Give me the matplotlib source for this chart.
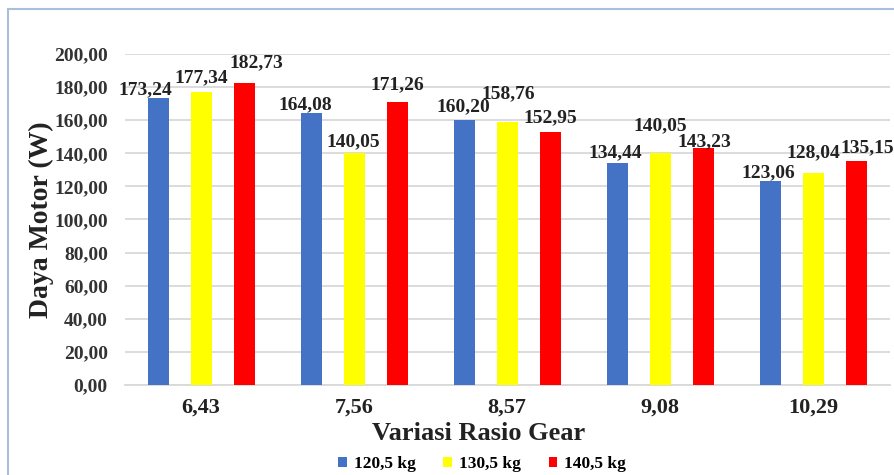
"""
grouped bar chart of motor power against gear ratio for three loads
"""

import numpy as np
from matplotlib import pyplot as plt
from matplotlib.patches import Rectangle

gear_ratios = ['6,43', '7,56', '8,57', '9,08', '10,29']
loads = ['120,5 kg', '130,5 kg', '140,5 kg']
power_120 = [173.24, 164.08, 160.20, 134.44, 123.06]
power_130 = [177.34, 140.05, 158.76, 140.05, 128.04]
power_140 = [182.73, 171.26, 152.95, 143.23, 135.15]

colors = ['#4472C4', '#FFFF00', '#FF0000']

# nudges (pixels) so the value labels don't collide
label_dx = [[-13, -6, -1, -2, -2],
            [0, -1, 1, 0, 0],
            [12, 0, 0, 1, 11]]
label_dy = [[9, 9, 13, 10, 9],
            [14, 11, 29, 27, 20],
            [20, 17, 14, 6, 14]]

SERIF = 'Liberation Serif'


def fmt(v):
    return f'{v:.2f}'.replace('.', ',')


def bar_chart(png_filename='out.png'):
    fig = plt.figure(figsize=(8.94, 4.75), dpi=100)
    fig.patch.set_facecolor('white')

    # light blue frame round the chart
    fig.add_artist(Rectangle((8 / 894, -0.05), 1.0, 1 - 9 / 475 + 0.05,
                             transform=fig.transFigure, fill=False,
                             edgecolor='#A9C0DD', linewidth=1.5))

    ax = fig.add_axes([0.1393, 0.1895, 0.8557, 0.6968])
    x = np.arange(len(gear_ratios))
    width = 0.137
    step = 0.281

    series = [power_120, power_130, power_140]
    for i, vals in enumerate(series):
        pos = x + (i - 1) * step
        bars = ax.bar(pos, vals, width, color=colors[i], label=loads[i], zorder=3)
        for j, b in enumerate(bars):
            ax.annotate(fmt(vals[j]),
                        (b.get_x() + b.get_width() / 2, b.get_height()),
                        xytext=(label_dx[i][j], label_dy[i][j]),
                        textcoords='offset pixels', ha='center', va='center',
                        fontsize=14, fontweight='bold', family=SERIF,
                        color='#222222', zorder=4)

    ax.set_xlim(-0.5, len(gear_ratios) - 0.5)
    ax.set_ylim(0, 200)
    ax.set_yticks(np.arange(0, 201, 20))
    ax.set_yticklabels([fmt(v) for v in np.arange(0, 201, 20)],
                       fontsize=14, fontweight='bold', family=SERIF, color='#333333')
    ax.set_xticks(x)
    ax.set_xticklabels(gear_ratios, fontsize=16, fontweight='bold',
                       family=SERIF, color='#222222')
    ax.tick_params(axis='both', length=0)
    ax.tick_params(axis='x', pad=9)
    ax.tick_params(axis='y', pad=12)

    ax.grid(True, axis='y', color='#D9D9D9', linewidth=1.3, zorder=0)
    for side in ['top', 'right', 'left']:
        ax.spines[side].set_visible(False)
    ax.spines['bottom'].set_color('#D9D9D9')
    ax.spines['bottom'].set_linewidth(1.3)

    ax.set_ylabel('Daya Motor (W)', fontsize=20, fontweight='bold', family=SERIF,
                  color='#222222', labelpad=0)
    fig.text(479 / 894, 1 - 433 / 475, 'Variasi Rasio Gear', ha='center', va='center',
             fontsize=19, fontweight='bold', family=SERIF, color='#222222')

    fig.legend(loc='center', bbox_to_anchor=(482 / 894, 1 - 464 / 475), ncol=3,
               frameon=False, handlelength=0.5, handleheight=0.5,
               handletextpad=0.4, columnspacing=1.6,
               prop={'family': SERIF, 'weight': 'bold', 'size': 12.5})

    fig.savefig(png_filename, dpi=100)


if __name__ == '__main__':
    bar_chart()
